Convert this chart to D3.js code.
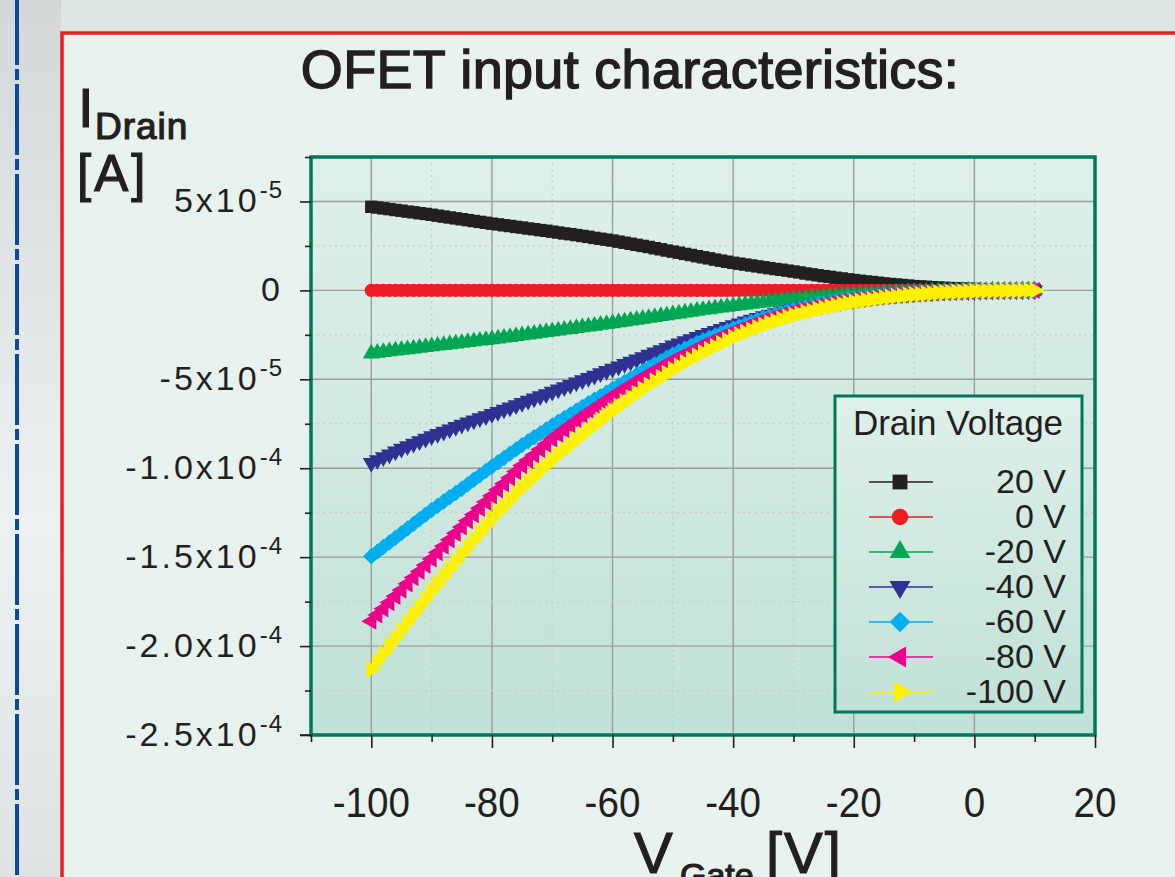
<!DOCTYPE html>
<html>
<head>
<meta charset="utf-8">
<script src="https://cdn.jsdelivr.net/npm/d3@7"></script>
<style>
  html, body { margin: 0; padding: 0; background: #dfe6e5; }
  svg { display: block; font-family: "Liberation Sans", Arial, Helvetica, sans-serif; }
</style>
</head>
<body>
<div id="canvas"></div>
<script>
// gate sweep, 1 V steps
const gateVoltages = d3.range(-100, 11, 1);

// drain current in µA, one array per drain voltage
const drain20V = [
  47.0, 46.6, 46.1, 45.7, 45.2, 44.8,
  44.3, 43.9, 43.4, 43.0, 42.5,
  42.0, 41.5, 41.0, 40.5, 40.0,
  39.5, 39.0, 38.5, 38.0, 37.5,
  37.1, 36.6, 36.2, 35.7, 35.3,
  34.8, 34.4, 33.9, 33.5, 33.0,
  32.5, 32.0, 31.6, 31.1, 30.6,
  30.1, 29.5, 29.0, 28.5, 28.0,
  27.4, 26.8, 26.2, 25.6, 25.0,
  24.4, 23.7, 23.1, 22.4, 21.8,
  21.2, 20.5, 19.9, 19.2, 18.6,
  18.0, 17.3, 16.7, 16.1, 15.5,
  15.0, 14.5, 14.0, 13.5, 13.0,
  12.5, 12.0, 11.6, 11.1, 10.6,
  10.1, 9.5, 9.0, 8.5, 8.0,
  7.6, 7.1, 6.7, 6.2, 5.8,
  5.4, 5.0, 4.7, 4.3, 3.9,
  3.6, 3.3, 3.0, 2.7, 2.4,
  2.2, 2.0, 1.8, 1.6, 1.4,
  1.3, 1.2, 1.0, 0.9, 0.8,
  0.7, 0.6, 0.6, 0.5, 0.4,
  0.4, 0.3, 0.3, 0.2, 0.2
];
const drain0V = [
  0, 0, 0, 0, 0, 0, 0, 0, 0, 0,
  0, 0, 0, 0, 0, 0, 0, 0, 0, 0,
  0, 0, 0, 0, 0, 0, 0, 0, 0, 0,
  0, 0, 0, 0, 0, 0, 0, 0, 0, 0,
  0, 0, 0, 0, 0, 0, 0, 0, 0, 0,
  0, 0, 0, 0, 0, 0, 0, 0, 0, 0,
  0, 0, 0, 0, 0, 0, 0, 0, 0, 0,
  0, 0, 0, 0, 0, 0, 0, 0, 0, 0,
  0, 0, 0, 0, 0, 0, 0, 0, 0, 0,
  0, 0, 0, 0, 0, 0, 0, 0, 0, 0,
  0, 0, 0, 0, 0, 0, 0, 0, 0, 0,
  0
];
const drainM20V = [
  -35.5, -35.1, -34.7, -34.3, -33.9, -33.5,
  -33.1, -32.7, -32.3, -31.9, -31.5,
  -31.1, -30.7, -30.3, -29.9, -29.5,
  -29.1, -28.7, -28.3, -27.9, -27.5,
  -27.1, -26.6, -26.2, -25.7, -25.3,
  -24.8, -24.4, -23.9, -23.5, -23.0,
  -22.6, -22.1, -21.7, -21.2, -20.8,
  -20.3, -19.9, -19.4, -19.0, -18.5,
  -18.0, -17.5, -17.0, -16.5, -16.0,
  -15.5, -15.0, -14.5, -14.0, -13.5,
  -13.0, -12.5, -12.0, -11.5, -11.0,
  -10.6, -10.1, -9.7, -9.2, -8.8,
  -8.4, -8.0, -7.6, -7.2, -6.8,
  -6.4, -6.1, -5.7, -5.4, -5.0,
  -4.7, -4.5, -4.2, -4.0, -3.7,
  -3.5, -3.3, -3.0, -2.8, -2.6,
  -2.4, -2.2, -2.1, -1.9, -1.7,
  -1.6, -1.4, -1.3, -1.1, -1.0,
  -0.9, -0.8, -0.7, -0.6, -0.5,
  -0.4, -0.4, -0.3, -0.3, -0.2,
  -0.2, -0.2, -0.1, -0.1, -0.1,
  -0.1, -0.1, 0.0, 0.0, 0.0
];
const drainM40V = [
  -97.0, -95.4, -93.8, -92.2, -90.6, -89.0,
  -87.6, -86.2, -84.8, -83.4, -82.0,
  -80.7, -79.4, -78.1, -76.8, -75.5,
  -74.3, -73.1, -71.9, -70.7, -69.5,
  -68.3, -67.0, -65.8, -64.5, -63.3,
  -62.0, -60.8, -59.5, -58.3, -57.0,
  -55.7, -54.4, -53.1, -51.8, -50.5,
  -49.2, -47.9, -46.6, -45.3, -44.0,
  -42.7, -41.4, -40.1, -38.8, -37.5,
  -36.2, -34.9, -33.6, -32.3, -31.0,
  -29.8, -28.6, -27.4, -26.2, -25.0,
  -23.9, -22.8, -21.7, -20.6, -19.5,
  -18.5, -17.5, -16.5, -15.5, -14.5,
  -13.7, -12.8, -12.0, -11.1, -10.3,
  -9.6, -9.0, -8.3, -7.7, -7.0,
  -6.5, -6.0, -5.6, -5.1, -4.6,
  -4.3, -3.9, -3.6, -3.2, -2.9,
  -2.6, -2.4, -2.1, -1.9, -1.6,
  -1.4, -1.2, -1.1, -0.9, -0.7,
  -0.6, -0.5, -0.5, -0.4, -0.3,
  -0.3, -0.2, -0.2, -0.1, -0.1,
  -0.1, -0.1, 0.0, 0.0, 0.0
];
const drainM60V = [
  -149.5, -146.9, -144.3, -141.7, -139.1, -136.5,
  -133.9, -131.3, -128.7, -126.1, -123.5,
  -121.1, -118.7, -116.3, -113.9, -111.5,
  -109.0, -106.5, -104.0, -101.5, -99.0,
  -96.6, -94.2, -91.8, -89.4, -87.0,
  -84.8, -82.6, -80.4, -78.2, -76.0,
  -73.9, -71.8, -69.7, -67.6, -65.5,
  -63.5, -61.5, -59.5, -57.5, -55.5,
  -53.5, -51.5, -49.5, -47.5, -45.5,
  -43.6, -41.7, -39.8, -37.9, -36.0,
  -34.4, -32.8, -31.2, -29.6, -28.0,
  -26.7, -25.4, -24.1, -22.8, -21.5,
  -20.3, -19.1, -17.9, -16.7, -15.5,
  -14.6, -13.6, -12.7, -11.7, -10.8,
  -10.1, -9.4, -8.7, -8.0, -7.3,
  -6.8, -6.3, -5.8, -5.3, -4.8,
  -4.4, -4.1, -3.7, -3.4, -3.0,
  -2.7, -2.5, -2.2, -2.0, -1.7,
  -1.5, -1.3, -1.2, -1.0, -0.8,
  -0.7, -0.6, -0.5, -0.4, -0.3,
  -0.3, -0.2, -0.2, -0.1, -0.1,
  -0.1, -0.1, 0.0, 0.0, 0.0
];
const drainM80V = [
  -186.0, -182.5, -179.0, -175.5, -172.0, -168.5,
  -165.0, -161.5, -158.0, -154.5, -151.0,
  -147.4, -143.8, -140.2, -136.6, -133.0,
  -129.5, -126.0, -122.5, -119.0, -115.5,
  -112.1, -108.7, -105.3, -101.9, -98.5,
  -95.5, -92.5, -89.5, -86.5, -83.5,
  -81.0, -78.5, -76.0, -73.5, -71.0,
  -68.7, -66.4, -64.1, -61.8, -59.5,
  -57.4, -55.3, -53.2, -51.1, -49.0,
  -47.1, -45.2, -43.3, -41.4, -39.5,
  -37.8, -36.1, -34.4, -32.7, -31.0,
  -29.5, -28.0, -26.5, -25.0, -23.5,
  -22.2, -20.9, -19.6, -18.3, -17.0,
  -16.0, -15.0, -14.0, -13.0, -12.0,
  -11.2, -10.5, -9.7, -9.0, -8.2,
  -7.6, -7.1, -6.5, -6.0, -5.4,
  -5.0, -4.6, -4.1, -3.7, -3.3,
  -3.0, -2.7, -2.5, -2.2, -1.9,
  -1.7, -1.5, -1.3, -1.1, -0.9,
  -0.8, -0.7, -0.6, -0.5, -0.4,
  -0.3, -0.3, -0.2, -0.2, -0.1,
  -0.1, -0.1, 0.0, 0.0, 0.0
];
const drainM100V = [
  -213.0, -208.6, -204.2, -199.8, -195.4, -191.0,
  -186.6, -182.2, -177.8, -173.4, -169.0,
  -164.8, -160.6, -156.4, -152.2, -148.0,
  -144.0, -140.0, -136.0, -132.0, -128.0,
  -124.5, -121.0, -117.5, -114.0, -110.5,
  -107.4, -104.3, -101.2, -98.1, -95.0,
  -92.2, -89.4, -86.6, -83.8, -81.0,
  -78.3, -75.6, -72.9, -70.2, -67.5,
  -65.1, -62.7, -60.3, -57.9, -55.5,
  -53.3, -51.1, -48.9, -46.7, -44.5,
  -42.6, -40.7, -38.8, -36.9, -35.0,
  -33.3, -31.6, -29.9, -28.2, -26.5,
  -25.1, -23.7, -22.3, -20.9, -19.5,
  -18.4, -17.3, -16.2, -15.1, -14.0,
  -13.2, -12.3, -11.5, -10.6, -9.8,
  -9.1, -8.5, -7.8, -7.2, -6.5,
  -6.0, -5.5, -5.1, -4.6, -4.1,
  -3.8, -3.4, -3.1, -2.7, -2.4,
  -2.2, -1.9, -1.7, -1.4, -1.2,
  -1.1, -0.9, -0.8, -0.6, -0.5,
  -0.4, -0.3, -0.3, -0.2, -0.2,
  -0.1, -0.1, 0.0, 0.0, 0.0
];

const drainSeries = [drain20V, drain0V, drainM20V, drainM40V, drainM60V, drainM80V, drainM100V];
const drainLabels = ["20 V", "0 V", "-20 V", "-40 V", "-60 V", "-80 V", "-100 V"];
const drainColors = ["#231f20", "#ed1c24", "#00a651", "#2e3192", "#00aeef", "#ec008c", "#fff200"];
const drainSymbols = ["square", "circle", "triangleUp", "triangleDown", "diamond", "triangleLeft", "triangleRight"];

const xTicks = [-100, -80, -60, -40, -20, 0, 20];
const xMinorTicks = [-110, -90, -70, -50, -30, -10, 10];
const yTicks = [50, 0, -50, -100, -150, -200, -250];
const yMinorTicks = [75, 25, -25, -75, -125, -175, -225];
const yTickMantissa = ["5", "0", "-5", "-1.0", "-1.5", "-2.0", "-2.5"];
const yTickExponent = ["-5", null, "-5", "-4", "-4", "-4", "-4"];

const width = 1175;
const height = 877;
const plot = { left: 311, top: 157, right: 1095, bottom: 735 };
const ink = "#231f20";
const frameGreen = "#00775a";

const svg = d3.select("#canvas").append("svg")
  .attr("width", width)
  .attr("height", height);

const defs = svg.append("defs");
const plotGrad = defs.append("linearGradient").attr("id", "plotBg")
  .attr("x1", 0).attr("y1", 0).attr("x2", 0).attr("y2", 1);
plotGrad.append("stop").attr("offset", "0%").attr("stop-color", "#dff0ea");
plotGrad.append("stop").attr("offset", "100%").attr("stop-color", "#c1e2d8");

const stripGrad = defs.append("linearGradient").attr("id", "stripBg")
  .attr("x1", 0).attr("y1", 0).attr("x2", 0).attr("y2", 1);
stripGrad.append("stop").attr("offset", "0%").attr("stop-color", "#d3d8d9");
stripGrad.append("stop").attr("offset", "60%").attr("stop-color", "#eef1f1");
stripGrad.append("stop").attr("offset", "100%").attr("stop-color", "#dfe3e4");

// page background
svg.append("rect").attr("width", width).attr("height", height).attr("fill", "#dfe7e5");
svg.append("rect").attr("x", 0).attr("y", 0).attr("width", 61).attr("height", height)
  .attr("fill", "url(#stripBg)");
svg.append("line")
  .attr("x1", 17).attr("x2", 17).attr("y1", -6).attr("y2", height)
  .attr("stroke", "#0b4a99").attr("stroke-width", 4)
  .attr("stroke-dasharray", "71 4 11 4");

// red panel
svg.append("rect")
  .attr("x", 62).attr("y", 33).attr("width", width).attr("height", height)
  .attr("fill", "#e8f2ee")
  .attr("stroke", "#ed1c24").attr("stroke-width", 3.5);

const x = d3.scaleLinear().domain([-110, 20]).range([plot.left, plot.right]);
const y = d3.scaleLinear().domain([-250, 75]).range([plot.bottom, plot.top]);

// plot area
svg.append("rect")
  .attr("x", plot.left).attr("y", plot.top)
  .attr("width", plot.right - plot.left).attr("height", plot.bottom - plot.top)
  .attr("fill", "url(#plotBg)");

const grid = svg.append("g");
grid.selectAll(".vmaj").data(xTicks.filter(d => d > -110 && d < 20)).enter().append("line")
  .attr("x1", d => x(d)).attr("x2", d => x(d))
  .attr("y1", plot.top).attr("y2", plot.bottom)
  .attr("stroke", "#9c9c9c").attr("stroke-width", 1.4);
grid.selectAll(".vmin").data(xMinorTicks.filter(d => d > -110 && d < 20)).enter().append("line")
  .attr("x1", d => x(d)).attr("x2", d => x(d))
  .attr("y1", plot.top).attr("y2", plot.bottom)
  .attr("stroke", "#cfc9c9").attr("stroke-width", 1.3).attr("stroke-dasharray", "2 4");
grid.selectAll(".hmaj").data(yTicks.filter(d => d > -250)).enter().append("line")
  .attr("x1", plot.left).attr("x2", plot.right)
  .attr("y1", d => y(d)).attr("y2", d => y(d))
  .attr("stroke", "#9c9c9c").attr("stroke-width", 1.4);
grid.selectAll(".hmin").data(yMinorTicks.filter(d => d < 75)).enter().append("line")
  .attr("x1", plot.left).attr("x2", plot.right)
  .attr("y1", d => y(d)).attr("y2", d => y(d))
  .attr("stroke", "#cfc9c9").attr("stroke-width", 1.3).attr("stroke-dasharray", "2 4");

// marker shapes
function markerPath(kind, size) {
  if (kind === "square") return d3.symbol(d3.symbolSquare, size)();
  if (kind === "circle") return d3.symbol(d3.symbolCircle, size)();
  if (kind === "diamond") return d3.symbol(d3.symbolSquare, size)();
  return d3.symbol(d3.symbolTriangle, size)();
}
function markerTurn(kind) {
  if (kind === "diamond") return 45;
  if (kind === "triangleDown") return 180;
  if (kind === "triangleLeft") return -90;
  if (kind === "triangleRight") return 90;
  return 0;
}
const plotSizes = { square: 155, circle: 140, triangleUp: 125, triangleDown: 125, diamond: 135, triangleLeft: 130, triangleRight: 130 };
const legendSizes = { square: 220, circle: 215, triangleUp: 190, triangleDown: 190, diamond: 210, triangleLeft: 190, triangleRight: 190 };

const marks = svg.append("g");
drainSeries.forEach((values, i) => {
  const kind = drainSymbols[i];
  const path = markerPath(kind, plotSizes[kind]);
  const points = gateVoltages.map((v, j) => ({ v: v, id: values[j] }));
  marks.append("g").selectAll("path").data(points).enter().append("path")
    .attr("d", path)
    .attr("transform", d => `translate(${x(d.v)},${y(d.id)}) rotate(${markerTurn(kind)})`)
    .attr("fill", drainColors[i]);
});

// frame
svg.append("rect")
  .attr("x", plot.left).attr("y", plot.top)
  .attr("width", plot.right - plot.left).attr("height", plot.bottom - plot.top)
  .attr("fill", "none").attr("stroke", frameGreen).attr("stroke-width", 3.5);

// axes (ticks only, labels drawn below)
svg.append("g").attr("transform", `translate(0,${plot.bottom})`)
  .call(d3.axisBottom(x).tickValues(xTicks).tickSize(13).tickFormat(""))
  .call(g => g.select(".domain").remove());
svg.append("g").attr("transform", `translate(0,${plot.bottom})`)
  .call(d3.axisBottom(x).tickValues(xMinorTicks).tickSize(7).tickFormat(""))
  .call(g => g.select(".domain").remove());
svg.append("g").attr("transform", `translate(${plot.left},0)`)
  .call(d3.axisLeft(y).tickValues(yTicks).tickSize(11).tickFormat(""))
  .call(g => g.select(".domain").remove());
svg.append("g").attr("transform", `translate(${plot.left},0)`)
  .call(d3.axisLeft(y).tickValues(yMinorTicks).tickSize(6).tickFormat(""))
  .call(g => g.select(".domain").remove());
svg.selectAll(".tick line").attr("stroke", ink).attr("stroke-width", 1.6);
svg.append("line")
  .attr("x1", 300).attr("x2", plot.left).attr("y1", plot.bottom).attr("y2", plot.bottom)
  .attr("stroke", ink).attr("stroke-width", 1.6);

// x tick labels
svg.append("g").selectAll("text").data(xTicks).enter().append("text")
  .attr("transform", d => `translate(${x(d)},817) scale(0.92,1)`)
  .attr("text-anchor", "middle")
  .attr("font-size", 42)
  .attr("fill", ink)
  .text(d => d);

// y tick labels with powers of ten
const yLab = svg.append("g").selectAll("text").data(yTicks).enter().append("text")
  .attr("x", 283)
  .attr("y", d => y(d) + 11)
  .attr("text-anchor", "end")
  .attr("fill", ink)
  .attr("font-size", 34)
  .attr("letter-spacing", 3);
yLab.append("tspan").text((d, i) => yTickExponent[i] ? yTickMantissa[i] + "x10" : yTickMantissa[i]);
yLab.filter((d, i) => yTickExponent[i] !== null).append("tspan")
  .attr("dy", -14).attr("font-size", 24).attr("letter-spacing", 1)
  .text(d => yTickExponent[yTicks.indexOf(d)]);

// title and axis titles
svg.append("text")
  .attr("x", 630).attr("y", 88)
  .attr("text-anchor", "middle")
  .attr("font-size", 54)
  .attr("letter-spacing", 0.3)
  .attr("fill", ink).attr("stroke", ink).attr("stroke-width", 1.4)
  .text("OFET input characteristics:");

const yTitle = svg.append("g").attr("fill", ink).attr("stroke", ink).attr("stroke-width", 1.2);
yTitle.append("text").attr("x", 78).attr("y", 127).attr("font-size", 56).text("I");
yTitle.append("text").attr("x", 95).attr("y", 139).attr("font-size", 37).attr("letter-spacing", 1).text("Drain");
yTitle.append("text").attr("x", 77).attr("y", 191).attr("font-size", 51).attr("letter-spacing", 3).text("[A]");

const xTitle = svg.append("g").attr("fill", ink).attr("stroke", ink).attr("stroke-width", 1.2);
xTitle.append("text").attr("x", 634).attr("y", 873).attr("font-size", 58).text("V");
xTitle.append("text").attr("x", 680).attr("y", 887).attr("font-size", 34).text("Gate");
xTitle.append("text").attr("x", 766).attr("y", 873).attr("font-size", 58).attr("letter-spacing", 2).text("[V]");

// legend
const legend = svg.append("g");
legend.append("rect")
  .attr("x", 835).attr("y", 396).attr("width", 247).attr("height", 316)
  .attr("fill", "url(#plotBg)")
  .attr("stroke", frameGreen).attr("stroke-width", 3);
legend.append("text")
  .attr("x", 958).attr("y", 435)
  .attr("text-anchor", "middle")
  .attr("font-size", 35)
  .attr("fill", ink)
  .text("Drain Voltage");

const rows = legend.selectAll(".row").data(drainLabels).enter().append("g")
  .attr("transform", (d, i) => `translate(0,${493 + i * 35})`);
rows.append("line")
  .attr("x1", 869).attr("x2", 933).attr("y1", -11).attr("y2", -11)
  .attr("stroke", (d, i) => drainColors[i]).attr("stroke-width", 1.3);
rows.append("path")
  .attr("d", (d, i) => markerPath(drainSymbols[i], legendSizes[drainSymbols[i]]))
  .attr("transform", (d, i) => `translate(900,-11) rotate(${markerTurn(drainSymbols[i])})`)
  .attr("fill", (d, i) => drainColors[i]);
rows.append("text")
  .attr("x", 1066).attr("y", 0)
  .attr("text-anchor", "end")
  .attr("font-size", 34)
  .attr("fill", ink)
  .text(d => d);
</script>
</body>
</html>
